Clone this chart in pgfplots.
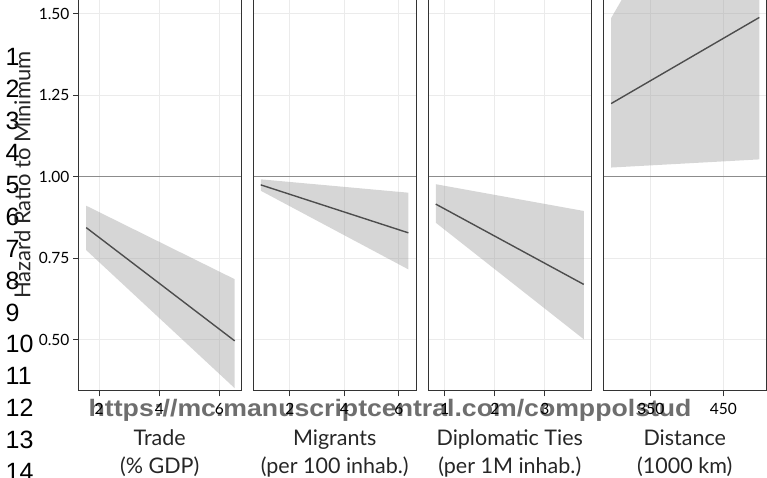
\documentclass[border=0pt]{standalone}
\usepackage{pgfplots}
\pgfplotsset{compat=1.18}
\usepackage{pgfplotstable}
\usepgfplotslibrary{fillbetween}
\usepackage{fontspec}
\setmainfont{Lato}
\newfontfamily\numfont{Liberation Sans}

\definecolor{panelline}{HTML}{333333}
\definecolor{gridc}{HTML}{EBEBEB}
\definecolor{fitline}{HTML}{4D4D4D}
\definecolor{refline}{HTML}{8C8C8C}
\definecolor{ribbon}{HTML}{999999}
\definecolor{wmgray}{HTML}{6E6E6E}

% columns: x, fitted hazard ratio, lower and upper bound of the band
\pgfplotstableread{
x     fit   lo    hi
1.567 0.844 0.775 0.911
6.51  0.497 0.352 0.686
}\tradetab
\pgfplotstableread{
x     fit   lo    hi
0.936 0.975 0.957 0.992
6.35  0.828 0.716 0.951
}\migrtab
\pgfplotstableread{
x     fit   lo    hi
0.82  0.916 0.859 0.977
3.775 0.670 0.502 0.895
}\diptab
\pgfplotstableread{
x     fit   lo    hi
295.1 1.224 1.028 1.486
499.8 1.488 1.053 2.27
}\disttab

\pgfplotsset{
  panel/.style={
    scale only axis, width=162.5pt, height=411pt,
    anchor=south west,
    ymin=0.3434, ymax=1.6027,
    ytick={0.5,0.75,1,1.25,1.5},
    axis line style={draw=panelline, line width=1pt},
    grid=major, major grid style={draw=gridc, line width=1pt},
    tick style={draw=panelline, line width=1pt},
    tick align=outside, major tick length=5.5pt,
    xtick pos=bottom,
    ticklabel style={font=\fontsize{15.5}{18}\selectfont, text=black},
    xticklabel style={yshift=-3.5pt},
    /pgf/number format/assume math mode=true,
    yticklabel style={/pgf/number format/.cd, fixed, fixed zerofill, precision=2},
    xlabel style={at={(axis description cs:0.5,0)}, anchor=north, yshift=-38.5pt,
      inner sep=0pt, align=center, font=\fontsize{21.5}{28}\selectfont, text=black!85},
  },
  inner/.style={panel, yticklabels={}, ytick style={draw=none}},
  band/.style={fill=ribbon, fill opacity=0.4, draw=none},
  fit/.style={draw=fitline, line width=1.4pt},
}

\newcommand{\refline}{\draw[refline, line width=0.9pt] ({rel axis cs:0,0} |- {axis cs:0,1}) -- ({rel axis cs:1,0} |- {axis cs:0,1});}

\begin{document}
\begin{tikzpicture}
% journal watermark
\node[anchor=base west, inner sep=0pt, text=wmgray] at (88.5pt,61pt)
  {\scalebox{1.12}[1]{\numfont\bfseries\fontsize{23.8}{24}\selectfont https://mc.manuscriptcentral.com/comppolstud}};
% manuscript line numbers
\foreach \n in {1,...,14}
  \node[anchor=base west, inner sep=0pt, font=\numfont\fontsize{25}{25}\selectfont]
    at (5.5pt,{125pt-31.9pt*(\n-10)}) {\n};

\begin{axis}[panel, at={(78.5pt,87pt)}, xmin=1.31, xmax=6.72, xtick={2,4,6}, ytick pos=left,
  xlabel={Trade\\(\% GDP)},
  ylabel={Hazard Ratio to Minimum},
  ylabel style={at={(axis description cs:-0.345,0.5255)}, anchor=center, inner sep=0pt,
    font=\fontsize{22}{24}\selectfont, text=black!85}]
  \addplot[name path=lo, draw=none, forget plot] table[x=x, y=lo] {\tradetab};
  \addplot[name path=hi, draw=none, forget plot] table[x=x, y=hi] {\tradetab};
  \addplot[band] fill between[of=lo and hi];
  \refline
  \addplot[fit] table[x=x, y=fit] {\tradetab};
\end{axis}

\begin{axis}[inner, at={(253.5pt,87pt)}, xmin=0.67, xmax=6.63, xtick={2,4,6},
  xlabel={Migrants\\(per 100 inhab.)}]
  \addplot[name path=lo, draw=none, forget plot] table[x=x, y=lo] {\migrtab};
  \addplot[name path=hi, draw=none, forget plot] table[x=x, y=hi] {\migrtab};
  \addplot[band] fill between[of=lo and hi];
  \refline
  \addplot[fit] table[x=x, y=fit] {\migrtab};
\end{axis}

\begin{axis}[inner, at={(428.5pt,87pt)}, xmin=0.675, xmax=3.92, xtick={1,2,3},
  xlabel={Diplomatic Ties\\(per 1M inhab.)}]
  \addplot[name path=lo, draw=none, forget plot] table[x=x, y=lo] {\diptab};
  \addplot[name path=hi, draw=none, forget plot] table[x=x, y=hi] {\diptab};
  \addplot[band] fill between[of=lo and hi];
  \refline
  \addplot[fit] table[x=x, y=fit] {\diptab};
\end{axis}

\begin{axis}[inner, at={(603.5pt,87pt)}, xmin=284.6, xmax=509, xtick={350,450},
  xlabel={Distance\\(1000 km)}]
  \addplot[name path=lo, draw=none, forget plot] table[x=x, y=lo] {\disttab};
  \addplot[name path=hi, draw=none, forget plot] table[x=x, y=hi] {\disttab};
  \addplot[band] fill between[of=lo and hi];
  \refline
  \addplot[fit] table[x=x, y=fit] {\disttab};
\end{axis}

\pgfresetboundingbox
\useasboundingbox (0pt,0pt) rectangle (767pt,478pt);
\end{tikzpicture}
\end{document}
